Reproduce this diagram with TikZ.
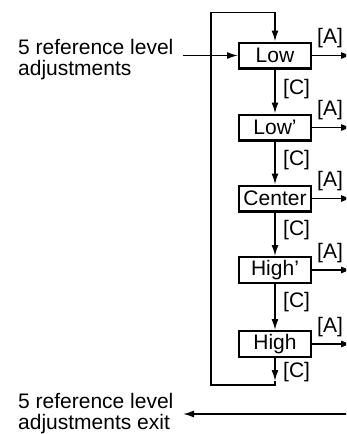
\documentclass[tikz,border=0pt]{standalone}
\usepackage{fontspec}
\setmainfont{Liberation Sans}
\usetikzlibrary{arrows.meta,calc}
\begin{document}
\begin{tikzpicture}[x=1pt,y=-1pt,
  every node/.style={font=\fontsize{21}{21.5}\selectfont},
  level/.style={draw, line width=2.4pt, minimum width=71.6pt, minimum height=25.6pt, inner sep=0pt},
  tag/.style={inner sep=0pt},
  wire/.style={line width=1.5pt},
  flow/.style={wire, -{Latex[length=11pt,width=7pt]}}]
\clip (0,0) rectangle (346,434);

% the five reference levels
\node[level] (low)    at (275,55.5)  {Low};
\node[level] (lowp)   at (275,127.5) {Low’};
\node[level] (center) at (275,198.5) {Center};
\node[level] (highp)  at (275,270)   {High’};
\node[level] (high)   at (275,344)   {High};

% entry and exit texts (anchored on the baseline of their last line)
\node[tag, anchor=base west, align=left] (entry) at (18,75.5) {5 reference level\\adjustments};
\node[tag, anchor=base west, align=left] (exit) at (18,429.5) {5 reference level\\adjustments exit};

% free ends of the connectors
\coordinate (entryend)  at (183,55.5);
\coordinate (edge)      at (352,0);
\coordinate (exitstart) at (350,414);
\coordinate (exittip)   at (183,414);
\coordinate (lasttip)   at (275,381);
\coordinate (loopbr)    at (275,385);
\coordinate (loopbl)    at (211,385);
\coordinate (looptl)    at (211,12.7);
\coordinate (looptr)    at (275,12.7);

% entry and exit arrows
\draw[flow] (entryend) -- (low);
\draw[flow] (exitstart) -- (exittip);

% [A] outputs on the right
\foreach \n in {low,lowp,center,highp,high}{
  \draw[flow] (\n.east) -- (\n.east -| edge);
  \node[tag] (\n-a) at ($(\n)+(55,-17)$) {[A]};
}

% [C] steps down the chain
\draw[flow] (low) -- (lowp);
\draw[flow] (lowp) -- (center);
\draw[flow] (center) -- (highp);
\draw[flow] (highp) -- (high);
\node[tag, anchor=west] (low-c)    at ($(low)+(8,34)$)      {[C]};
\node[tag, anchor=west] (lowp-c)   at ($(lowp)+(8,32.5)$)   {[C]};
\node[tag, anchor=west] (center-c) at ($(center)+(8,31.5)$) {[C]};
\node[tag, anchor=west] (highp-c)  at ($(highp)+(8,32.5)$)  {[C]};
\node[tag, anchor=west] (high-c)   at ($(high)+(8,28.5)$)   {[C]};

% loop back from High to Low
\draw[flow] (high) -- (lasttip);
\draw[flow] (lasttip) -- (loopbr) -- (loopbl) -- (looptl) -- (looptr) -- (low);
\end{tikzpicture}
\end{document}
